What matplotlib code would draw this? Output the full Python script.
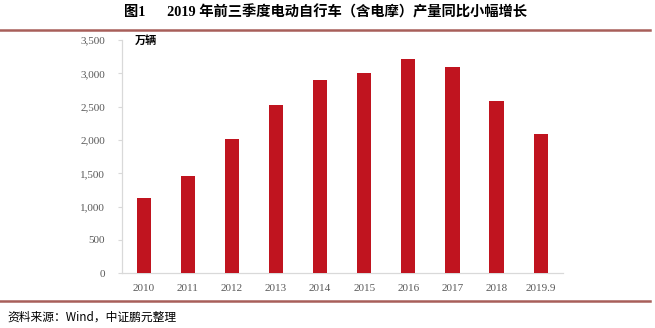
import matplotlib
matplotlib.use("Agg")
import matplotlib.pyplot as plt
from matplotlib.lines import Line2D

categories = ["2010", "2011", "2012", "2013", "2014", "2015", "2016", "2017", "2018", "2019.9"]
values = [1130, 1460, 2020, 2520, 2900, 3000, 3215, 3095, 2585, 2090]
yticks = [0, 500, 1000, 1500, 2000, 2500, 3000, 3500]
ytick_labels = ["0", "500", "1,000", "1,500", "2,000", "2,500", "3,000", "3,500"]

title = "图1      2019 年前三季度电动自行车（含电摩）产量同比小幅增长"
unit = "万辆"
source = "资料来源：Wind，中证鹏元整理"

W, H = 655, 328
fig = plt.figure(figsize=(W / 100, H / 100), dpi=100)
fig.patch.set_facecolor("white")

ax = fig.add_axes([121.7 / W, 1 - 273.3 / H, 441 / W, (273.3 - 40) / H])
x = list(range(len(categories)))
ax.bar(x, values, width=0.32, color="#C0141F", zorder=3)
ax.set_xlim(-0.5, len(categories) - 0.5)
ax.set_ylim(0, 3500)
ax.set_yticks(yticks)
ax.set_yticklabels(ytick_labels)
ax.set_xticks(x)
ax.set_xticklabels(categories)

serif = ["Liberation Serif", "DejaVu Serif"]
for lab in ax.get_yticklabels() + ax.get_xticklabels():
    lab.set_family(serif)
    lab.set_fontsize(8)
    lab.set_color("#595959")

ax.tick_params(axis="y", length=3, width=0.8, color="#D9D9D9", pad=9)
ax.tick_params(axis="x", length=0, pad=8)
for s in ["top", "right"]:
    ax.spines[s].set_visible(False)
for s in ["left", "bottom"]:
    ax.spines[s].set_color("#D9D9D9")
    ax.spines[s].set_linewidth(0.9)

ax.text(135 / W, 1 - 40 / H, unit, transform=fig.transFigure, ha="left", va="center",
        fontsize=8, family=["Noto Sans CJK SC", "DejaVu Sans"], color="#000000", fontweight="bold")

fig.text(326 / W, 1 - 12.5 / H, title, ha="center", va="center", fontsize=10.3,
         fontweight="bold", family=["Liberation Serif", "Noto Sans CJK SC"], color="#000000")

line_color = "#A85F5A"
fig.add_artist(Line2D([0, 650 / W], [1 - 29.5 / H, 1 - 29.5 / H], transform=fig.transFigure,
                      color=line_color, linewidth=1.8))
fig.add_artist(Line2D([0, 650 / W], [1 - 301 / H, 1 - 301 / H], transform=fig.transFigure,
                      color=line_color, linewidth=1.8))

fig.text(7 / W, 1 - 317 / H, source, ha="left", va="center", fontsize=8.5,
         family=["Noto Sans CJK SC", "DejaVu Sans"], color="#000000")

fig.savefig("out.png", dpi=100, facecolor="white")
